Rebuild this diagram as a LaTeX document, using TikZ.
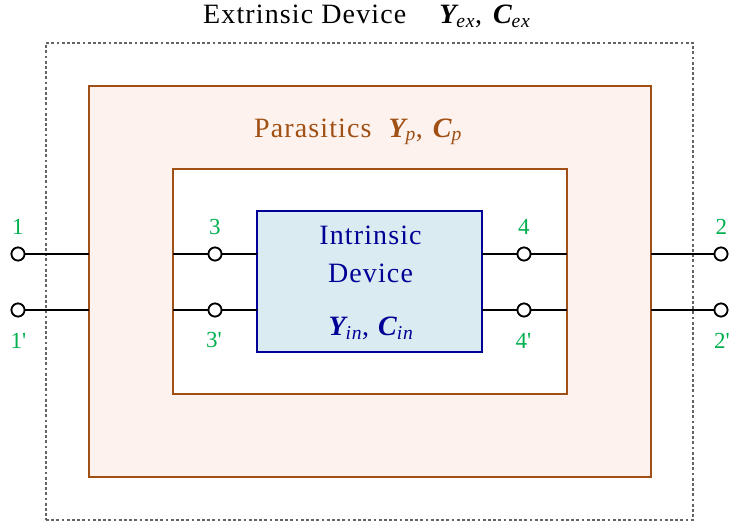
\documentclass[tikz,border=0pt]{standalone}
\usepackage{fontspec}
\setmainfont{Liberation Serif}[LetterSpace=4]
\definecolor{brn}{RGB}{160,80,20}
\definecolor{parfill}{RGB}{253,242,237}
\definecolor{inblue}{RGB}{218,236,242}
\definecolor{dblue}{RGB}{0,0,150}
\definecolor{grn}{RGB}{0,176,80}
\definecolor{dgray}{RGB}{100,100,100}
\newcommand{\bi}[1]{{\bfseries\itshape #1}}
\newcommand{\sub}[1]{\textsubscript{\itshape #1}}
\newcommand{\pr}{\textquotesingle}
\tikzset{
  box/.style={rectangle, inner sep=0pt, outer sep=0pt},
  port/.style={circle, draw=black, fill=white, line width=1.7pt, minimum size=13pt, inner sep=0pt},
  wire/.style={draw=black, line width=1.6pt},
  plabel/.style={text=grn, font=\fontsize{23}{25}\selectfont, inner sep=0pt, anchor=base west},
  big/.style={inner sep=0pt, font=\fontsize{28}{30}\selectfont},
}
\begin{document}
\begin{tikzpicture}[x=1pt,y=-1pt]
\useasboundingbox (0,0) rectangle (730,524);
% boxes
\node[box, draw=dgray, line width=1.3pt, dash pattern=on 2.8pt off 2.4pt, minimum width=647pt, minimum height=477pt] (ext) at (369.5,281.5) {};
\node[box, draw=brn, fill=parfill, line width=1.7pt, minimum width=562pt, minimum height=391pt] (par) at (370,281.5) {};
\node[box, draw=brn, fill=white, line width=1.7pt, minimum width=394pt, minimum height=225pt] (inner) at (370,281.5) {};
\node[box, draw=dblue, fill=inblue, line width=1.7pt, minimum width=225pt, minimum height=141pt] (intr) at (369.5,281.5) {};
% ports
\node[port] (p1) at (18,254) {};
\node[port] (p1b) at (18,310) {};
\node[port] (p3) at (215,254) {};
\node[port] (p3b) at (215,310) {};
\node[port] (p4) at (524,254) {};
\node[port] (p4b) at (524,310) {};
\node[port] (p2) at (721,254) {};
\node[port] (p2b) at (721,310) {};
% wires
\draw[wire] (p1) -- (p1 -| par.west);
\draw[wire] (p1b) -- (p1b -| par.west);
\draw[wire] (p3 -| inner.west) -- (p3) -- (p3 -| intr.west);
\draw[wire] (p3b -| inner.west) -- (p3b) -- (p3b -| intr.west);
\draw[wire] (p4 -| intr.east) -- (p4) -- (p4 -| inner.east);
\draw[wire] (p4b -| intr.east) -- (p4b) -- (p4b -| inner.east);
\draw[wire] (p2 -| par.east) -- (p2);
\draw[wire] (p2b -| par.east) -- (p2b);
% redraw port circles on top
\foreach \p in {p1,p1b,p3,p3b,p4,p4b,p2,p2b} {\path (\p) node[port] {};}
% port labels
\node[plabel] (l1) at (12,234.5) {1};
\node[plabel] (l1b) at (10.5,348) {1\pr};
\node[plabel] (l3) at (209,234.5) {3};
\node[plabel] (l3b) at (206,347) {3\pr};
\node[plabel] (l4) at (518,234.5) {4};
\node[plabel] (l4b) at (515.5,348) {4\pr};
\node[plabel] (l2) at (715.5,234.5) {2};
\node[plabel] (l2b) at (714,348) {2\pr};
% texts
\node[big, anchor=base west] (ttl) at (203,24) {Extrinsic Device\hspace{33pt}\bi{Y}\sub{ex},\hspace{11pt}\bi{C}\sub{ex}};
\node[big, anchor=base west, text=brn] (ptxt) at (254,137) {Parasitics\hspace{17pt}\bi{Y}\sub{p},\hspace{10pt}\bi{C}\sub{p}};
\node[big, text=dblue, align=center, font=\fontsize{28}{37.7}\selectfont] (itxt) at (370.5,254.7) {Intrinsic\\Device};
\node[big, anchor=base, text=dblue] (iym) at (371,335) {\bi{Y}\sub{in},\hspace{9pt}\bi{C}\sub{in}};
\end{tikzpicture}
\end{document}
